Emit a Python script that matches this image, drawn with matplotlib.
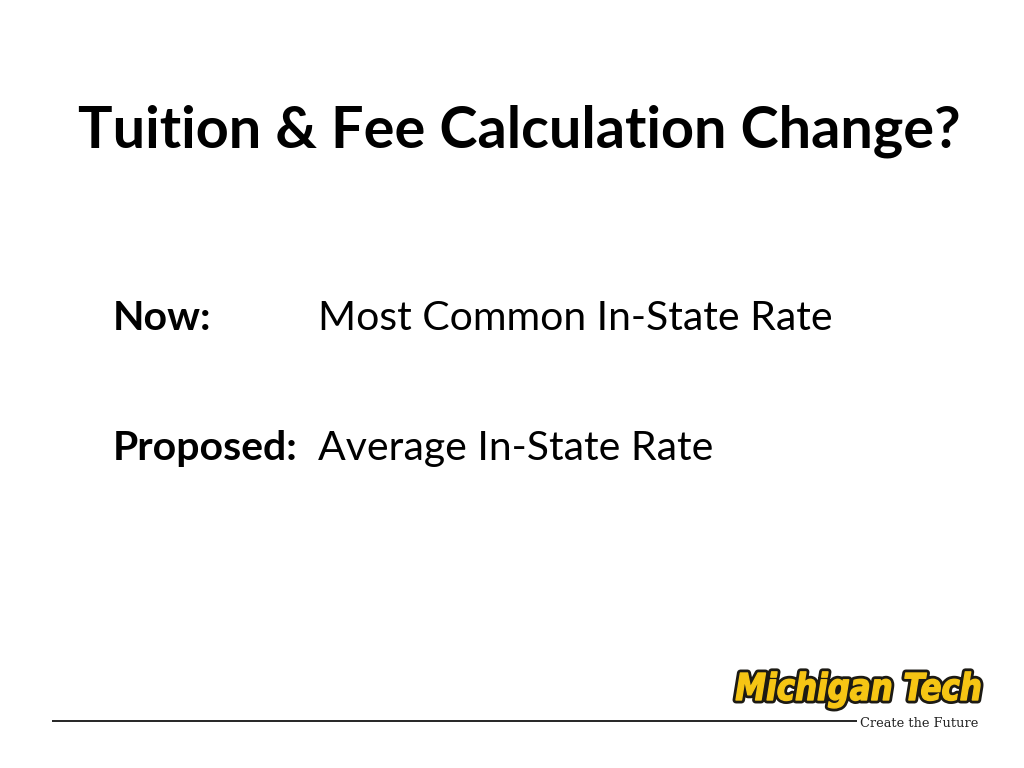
import matplotlib.pyplot as plt
import matplotlib.patheffects as pe
from matplotlib.font_manager import FontProperties
from matplotlib.patches import PathPatch
from matplotlib.textpath import TextPath
from matplotlib.transforms import Affine2D

title = "Tuition & Fee Calculation Change?"
row_labels = ["Now:", "Proposed:"]
row_texts = ["Most Common In-State Rate", "Average In-State Rate"]
row_base_px = [330, 460]
logo_word = "Michigan Tech"
tagline = "Create the Future"

W, H = 1024, 768
fig = plt.figure(figsize=(W / 100, H / 100), dpi=100)
fig.patch.set_facecolor("white")

# one axes over the whole slide, in pixel units (y down)
ax = fig.add_axes([0, 0, 1, 1])
ax.set_xlim(0, W)
ax.set_ylim(H, 0)
ax.axis("off")

ax.text(519, 147, title, ha="center", va="baseline",
        fontsize=41.5, fontweight="bold", family="Lato", color="black")

for lab, txt, yb in zip(row_labels, row_texts, row_base_px):
    ax.text(113, yb, lab, ha="left", va="baseline", fontsize=29.5,
            fontweight="bold", family="Lato", color="black")
    ax.text(318, yb, txt, ha="left", va="baseline", fontsize=29.5,
            family="Lato", color="black")

# footer rule
ax.plot([52, 857], [721, 721], color="black", lw=1.2, solid_capstyle="butt")

# logo: squeezed heavy italic word, thick dark outline under a fattened gold fill
fp = FontProperties(family="DejaVu Sans", weight="bold", style="italic")
tp = TextPath((0, 0), logo_word, size=100, prop=fp)
ext = tp.get_extents()
sy = 27 / 72.9
sx = 244 / ext.width
tr = Affine2D().translate(-ext.x0, 0).scale(sx, -sy).translate(736, 700) + ax.transData
outline = PathPatch(tp, facecolor="#1c1a14", edgecolor="#1c1a14", lw=5.0,
                    transform=tr, joinstyle="round")
outline.set_path_effects([pe.SimplePatchShadow(offset=(1.5, -1.5), shadow_rgbFace="#888888", alpha=0.5),
                          pe.Normal()])
ax.add_patch(outline)
fill = PathPatch(tp, facecolor="#f6c514", edgecolor="#f6c514", lw=1.0,
                 transform=tr, joinstyle="round")
ax.add_patch(fill)

ax.text(860, 727, tagline, ha="left", va="baseline",
        fontsize=9.3, family="DejaVu Serif", color="#222222")

fig.savefig("out.png", dpi=100, facecolor="white")
